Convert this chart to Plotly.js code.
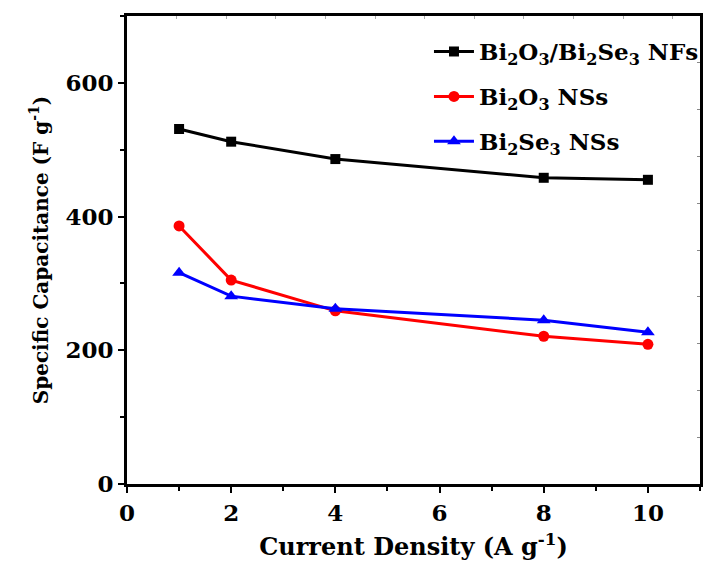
<!DOCTYPE html>
<html><head><meta charset="utf-8">
<script src="https://cdn.plot.ly/plotly-3.0.1.min.js"></script>
<style>body{margin:0;background:#fff}#p{width:706px;height:570px}</style>
</head><body><div id="p"></div>
<script>
const currentDensity = [1, 2, 4, 8, 10];
const nfs = [531, 512, 486, 458, 455];
const bi2o3 = [386, 305, 259, 221, 209];
const bi2se3 = [316, 281, 262, 245, 227];
const names = [
  '<b>Bi<sub>2</sub>O<sub>3</sub>/Bi<sub>2</sub>Se<sub>3</sub> NFs</b>',
  '<b>Bi<sub>2</sub>O<sub>3</sub> NSs</b>',
  '<b>Bi<sub>2</sub>Se<sub>3</sub> NSs</b>'
];
const xTickVals = [0, 2, 4, 6, 8, 10];
const xTickText = ['<b>0</b>', '<b>2</b>', '<b>4</b>', '<b>6</b>', '<b>8</b>', '<b>10</b>'];
const yTickVals = [0, 200, 400, 600];
const yTickText = ['<b>0</b>', '<b>200</b>', '<b>400</b>', '<b>600</b>'];
const F = 'DejaVu Serif, serif';
const traces = [
  {x: currentDensity, y: nfs, name: names[0], legendgroup: 'a', mode: 'lines+markers',
   line: {color: '#000', width: 3}, marker: {symbol: 'square', size: 10, color: '#000'}},
  {x: currentDensity, y: bi2o3, name: names[1], legendgroup: 'b', mode: 'lines+markers',
   line: {color: '#ff0000', width: 3}, marker: {symbol: 'circle', size: 11, color: '#ff0000'}},
  {x: currentDensity, y: bi2se3, name: names[2], legendgroup: 'c', mode: 'lines+markers',
   line: {color: '#0000ff', width: 3}, marker: {symbol: 'triangle-up', size: 12, color: '#0000ff'}}
];
const layout = {
  width: 706, height: 570,
  margin: {l: 127, r: 2, t: 16, b: 86},
  paper_bgcolor: '#fff', plot_bgcolor: '#fff',
  font: {family: F, color: '#000', size: 22},
  showlegend: true,
  legend: {x: 0.527, y: 0.97, xanchor: 'left', yanchor: 'top', bgcolor: 'rgba(0,0,0,0)',
           font: {family: F, size: 23, color: '#000'}, tracegroupgap: 12, itemwidth: 40},
  xaxis: {range: [0, 11], tickvals: xTickVals, ticktext: xTickText, showline: true, linewidth: 3, linecolor: '#000',
          ticks: 'outside', ticklen: 6, tickwidth: 2, tickcolor: '#000', showgrid: false, zeroline: false,
          minor: {dtick: 1, ticks: 'outside', ticklen: 4, tickwidth: 2, tickcolor: '#000'},
          tickfont: {family: F, size: 23, color: '#000'},
          title: {text: '<b>Current Density (A g<sup>-1</sup>)</b>', font: {family: F, size: 24, color: '#000'}, standoff: 14}},
  yaxis: {range: [0, 700], tickvals: yTickVals, ticktext: yTickText, showline: true, linewidth: 3, linecolor: '#000',
          ticks: 'outside', ticklen: 6, tickwidth: 2, tickcolor: '#000', showgrid: false, zeroline: false,
          minor: {dtick: 100, ticks: 'outside', ticklen: 4, tickwidth: 2, tickcolor: '#000'},
          tickfont: {family: F, size: 23, color: '#000'},
          title: {text: '<b>Specific Capacitance (F g<sup>-1</sup>)</b>', font: {family: F, size: 20, color: '#000'}, standoff: 12}},
  xaxis2: {overlaying: 'x', side: 'top', range: [0, 11.55], dtick: 1, showline: true, linewidth: 3,
           linecolor: '#000', ticks: 'inside', ticklen: 3, tickwidth: 1, tickcolor: '#aaa',
           showticklabels: false, showgrid: false, zeroline: false},
  yaxis2: {overlaying: 'y', side: 'right', range: [0, 10], dtick: 1, showline: true, linewidth: 3,
           linecolor: '#000', ticks: 'inside', ticklen: 3, tickwidth: 1, tickcolor: '#888',
           showticklabels: false, showgrid: false, zeroline: false}
};
traces.push({x: [0], y: [0], xaxis: 'x2', yaxis: 'y2', mode: 'markers', marker: {opacity: 0}, showlegend: false, hoverinfo: 'skip'});
Plotly.newPlot('p', traces, layout, {displayModeBar: false, staticPlot: true});
</script></body></html>
